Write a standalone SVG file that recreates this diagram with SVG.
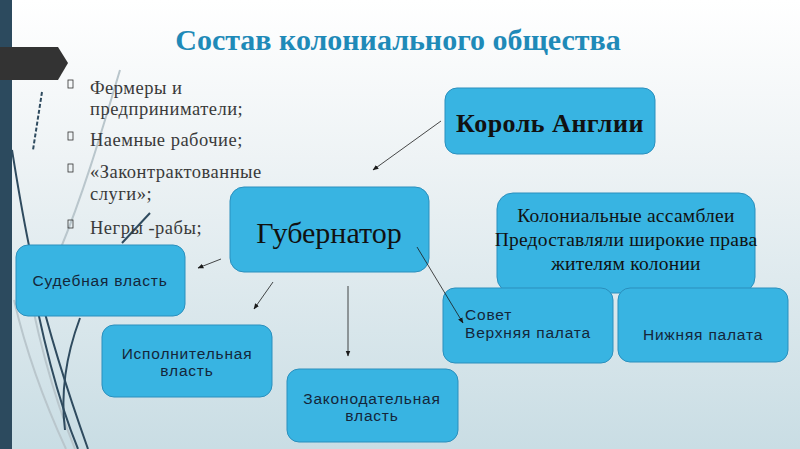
<svg xmlns="http://www.w3.org/2000/svg" width="800" height="449" viewBox="0 0 800 449">
<defs>
<linearGradient id="bg" x1="0" y1="0" x2="0" y2="1">
<stop offset="0" stop-color="#ffffff"/>
<stop offset="0.35" stop-color="#eef3f5"/>
<stop offset="1" stop-color="#c9dde4"/>
</linearGradient>
<marker id="ah" viewBox="0 0 10 10" refX="9" refY="5" markerWidth="6" markerHeight="6" orient="auto" markerUnits="userSpaceOnUse">
<path d="M0,1 L10,5 L0,9 z" fill="#1a1a1a"/>
</marker>
<style>
.box{fill:#38b4e2;stroke:#2a8fbd;stroke-width:1}
.sans{font-family:"Liberation Sans",Arial,sans-serif;fill:#14263a;font-size:15.5px;letter-spacing:0.8px}
.serif{font-family:"Liberation Serif","Times New Roman",serif;fill:#111}
.asm{font-size:19.5px;letter-spacing:0.25px}
.bul{font-family:"Liberation Serif","Times New Roman",serif;fill:#3a3a3a;font-size:18.5px;letter-spacing:0.5px}
.bx{fill:none;stroke:#333;stroke-width:0.8}
.conn{stroke:#1a1a1a;stroke-width:0.8;fill:none;marker-end:url(#ah)}
.deco{fill:none;stroke:#2f4b5f;stroke-width:2}
.decol{fill:none;stroke:#b9c6cc;stroke-width:2}
</style>
</defs>
<rect width="800" height="449" fill="url(#bg)"/>
<g id="decoration">
<path class="decol" d="M14 300 C28 360 48 410 66 449"/>
<path class="decol" d="M22 250 C35 330 55 400 75 449"/>
<path class="decol" d="M120 70 C105 120 85 190 60 250" stroke-width="1"/>
<path class="deco" d="M12 150 C25 230 35 300 88 449"/>
<path class="deco" d="M26 250 C40 330 58 400 78 449" stroke-width="1.6"/>
<path class="deco" d="M80 318 C68 350 60 390 65 430" stroke-width="1.2"/>
<path class="deco" d="M42 92 L33 150" stroke-width="0.8" stroke-dasharray="4 2"/>
<path class="deco" d="M150 213 L122 243" stroke-width="0.8"/>
<rect x="0" y="0" width="12" height="449" fill="#2c4a5e"/>
<path d="M0 47 L58 47 L68 63 L58 80 L0 80 z" fill="#333333"/>
</g>
<text x="398" y="50" text-anchor="middle" font-family="Liberation Serif, Times New Roman, serif" font-weight="bold" font-size="30" fill="#1f8ab8">Состав колониального общества</text>
<g id="bullets">
<rect class="bx" x="68" y="80" width="5" height="8"/>
<text class="bul" x="90" y="94">Фермеры и</text>
<text class="bul" x="90" y="115">предприниматели;</text>
<rect class="bx" x="68" y="132" width="5" height="8"/>
<text class="bul" x="90" y="146">Наемные рабочие;</text>
<rect class="bx" x="68" y="164" width="5" height="8"/>
<text class="bul" x="90" y="178">«Законтрактованные</text>
<text class="bul" x="90" y="200">слуги»;</text>
<rect class="bx" x="68" y="220" width="5" height="8"/>
<text class="bul" x="90" y="234">Негры -рабы;</text>
</g>
<g id="n-king">
<rect class="box" x="445" y="88" width="210" height="66" rx="12"/>
<text class="serif" x="550" y="132" text-anchor="middle" font-size="26" font-weight="bold" letter-spacing="0.5">Король Англии</text>
</g>
<g id="n-governor">
<rect class="box" x="230" y="187" width="199" height="85" rx="14"/>
<text class="serif" x="329" y="243" text-anchor="middle" font-size="30">Губернатор</text>
</g>
<g id="n-assembly">
<rect class="box" x="497" y="193" width="258" height="100" rx="16"/>
<text class="serif asm" x="626" y="222" text-anchor="middle">Колониальные ассамблеи</text>
<text class="serif asm" x="626" y="246" text-anchor="middle">Предоставляли широкие права</text>
<text class="serif asm" x="626" y="270" text-anchor="middle">жителям колонии</text>
</g>
<g id="n-council">
<rect class="box" x="443" y="288" width="170" height="75" rx="12"/>
<text class="sans" x="465" y="320">Совет</text>
<text class="sans" x="465" y="338">Верхняя палата</text>
</g>
<g id="n-lower">
<rect class="box" x="618" y="288" width="170" height="74" rx="12"/>
<text class="sans" x="703" y="340" text-anchor="middle">Нижняя палата</text>
</g>
<g id="n-judicial">
<rect class="box" x="16" y="245" width="169" height="71" rx="12"/>
<text class="sans" x="100" y="286" text-anchor="middle">Судебная власть</text>
</g>
<g id="n-executive">
<rect class="box" x="102" y="325" width="170" height="72" rx="12"/>
<text class="sans" x="187" y="359" text-anchor="middle">Исполнительная</text>
<text class="sans" x="187" y="376" text-anchor="middle">власть</text>
</g>
<g id="n-legislative">
<rect class="box" x="287" y="369" width="171" height="73" rx="12"/>
<text class="sans" x="372" y="404" text-anchor="middle">Законодательная</text>
<text class="sans" x="372" y="421" text-anchor="middle">власть</text>
</g>
<g id="connectors">
<line class="conn" x1="441" y1="121" x2="373" y2="170"/>
<line class="conn" x1="221" y1="259" x2="198" y2="268"/>
<line class="conn" x1="273" y1="282" x2="254" y2="309"/>
<line class="conn" x1="348" y1="286" x2="348" y2="356"/>
<line class="conn" x1="417" y1="247" x2="463" y2="323"/>
</g>
</svg>
